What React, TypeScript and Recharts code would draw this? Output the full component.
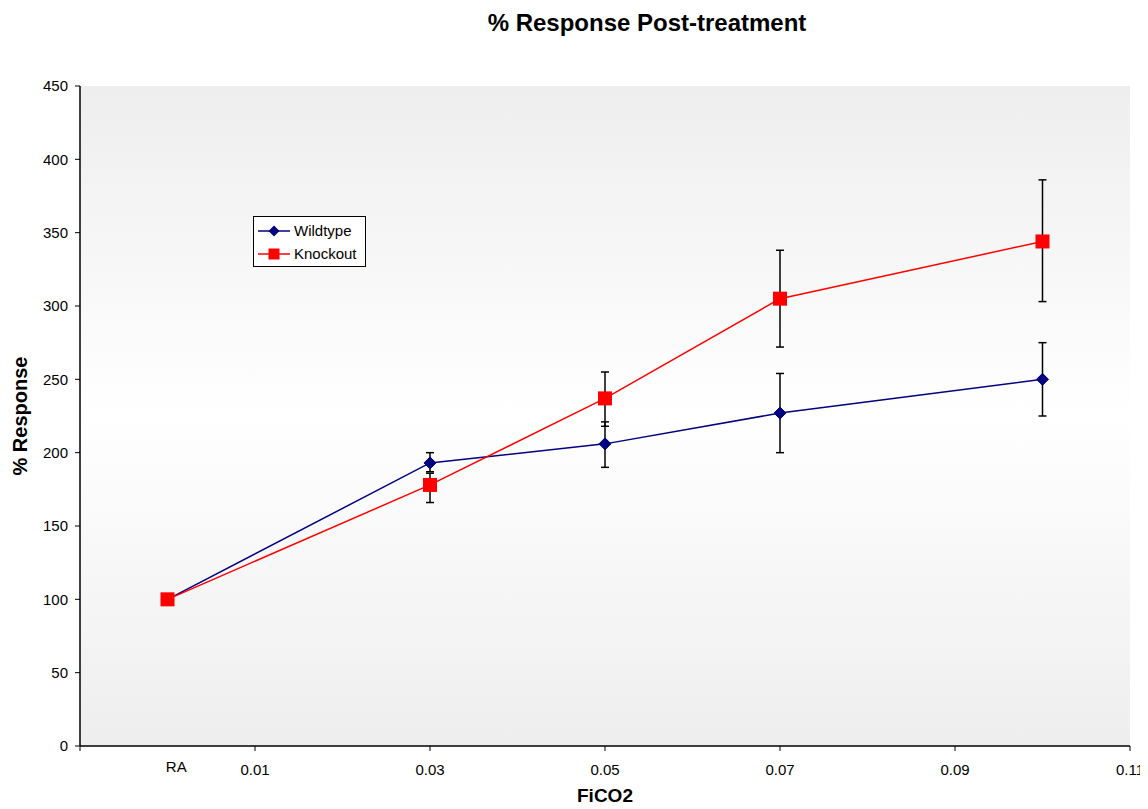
import React from 'react';
import {
  LineChart, Line, XAxis, YAxis, CartesianGrid, ErrorBar, ReferenceDot,
} from 'recharts';

// FiCO2 levels (0 = room air, labelled "RA")
const fico2 = [0, 0.03, 0.05, 0.07, 0.1];

const wildtype = [100, 193, 206, 227, 250];
const wildtypeErrLow = [0, 6, 16, 27, 25];
const wildtypeErrHigh = [0, 7, 15, 27, 25];

const knockout = [100, 178, 237, 305, 344];
const knockoutErrLow = [0, 12, 19, 33, 41];
const knockoutErrHigh = [0, 8, 18, 33, 42];

const xTicks = [-0.01, 0.01, 0.03, 0.05, 0.07, 0.09, 0.11];
const yTicks = [0, 50, 100, 150, 200, 250, 300, 350, 400, 450];

const NAVY = '#000080';
const RED = '#ff0000';
const FONT = '"Liberation Sans", Arial, sans-serif';

const data = fico2.map((x, i) => ({
  x,
  wildtype: wildtype[i],
  wildtypeErr: [wildtypeErrLow[i], wildtypeErrHigh[i]],
  knockout: knockout[i],
  knockoutErr: [knockoutErrLow[i], knockoutErrHigh[i]],
}));

const Diamond = (props: any) => {
  const { cx, cy } = props;
  if (cx == null || cy == null) return null;
  const s = 6;
  return <path d={`M${cx},${cy - s}L${cx + s},${cy}L${cx},${cy + s}L${cx - s},${cy}Z`} fill={NAVY} stroke={NAVY} />;
};

const Square = (props: any) => {
  const { cx, cy } = props;
  if (cx == null || cy == null) return null;
  const s = 7;
  return <rect x={cx - s} y={cy - s} width={s * 2} height={s * 2} fill={RED} />;
};

const legendItems = [
  { name: 'Wildtype', color: NAVY, shape: 'diamond' },
  { name: 'Knockout', color: RED, shape: 'square' },
];

const LegendBox = () => (
  <div style={{
    position: 'absolute', left: 245, top: 208, width: 111, height: 49,
    border: '1px solid #000', background: '#fff',
    fontFamily: FONT, fontSize: 15, color: '#000',
  }}>
    <div style={{ paddingTop: 2 }}>
      {legendItems.map(e => (
        <div key={e.name} style={{ display: 'flex', alignItems: 'center', height: 23 }}>
          <svg width={36} height={14} style={{ marginLeft: 3 }}>
            <line x1={1} y1={7} x2={33} y2={7} stroke={e.color} strokeWidth={1.5} />
            {e.shape === 'diamond'
              ? <path d="M17,1.5L22.5,7L17,12.5L11.5,7Z" fill={e.color} />
              : <rect x={11.5} y={1.5} width={11} height={11} fill={e.color} />}
          </svg>
          <span style={{ marginLeft: 1 }}>{e.name}</span>
        </div>
      ))}
    </div>
  </div>
);

export default function App() {
  return (
    <div style={{ position: 'relative', width: 1140, height: 800 }}>
      <div style={{
        position: 'absolute', top: 1, left: 439, width: 400, textAlign: 'center',
        fontFamily: FONT, fontWeight: 'bold', fontSize: 24, color: '#000',
      }}>
        % Response Post-treatment
      </div>
      <LineChart width={1140} height={800} data={data} margin={{ top: 78, right: 18, left: 12, bottom: 32 }}>
        <defs>
          <linearGradient id="plotBg" x1="0" y1="0" x2="0" y2="1">
            <stop offset="0%" stopColor="#eeeeee" />
            <stop offset="50%" stopColor="#ffffff" />
            <stop offset="100%" stopColor="#eeeeee" />
          </linearGradient>
        </defs>
        <CartesianGrid horizontal={false} vertical={false} fill="url(#plotBg)" />
        <XAxis
          dataKey="x"
          type="number"
          domain={[-0.01, 0.11]}
          ticks={xTicks}
          tickFormatter={(v: number) => (v < 0 ? '' : v.toFixed(2))}
          tick={{ fontSize: 15, fill: '#000', fontFamily: FONT }}
          tickLine={{ stroke: '#000' }}
          axisLine={{ stroke: '#000', strokeWidth: 1.5 }}
          tickSize={5}
          tickMargin={13}
          height={30}
          allowDataOverflow
          label={{ value: 'FiCO2', position: 'bottom', offset: 13, style: { fontSize: 19, fontWeight: 'bold', fill: '#000', fontFamily: FONT } }}
        />
        <XAxis xAxisId="top" orientation="top" type="number" domain={[-0.01, 0.11]} tick={false} tickLine={false} axisLine={{ stroke: '#808080' }} height={0} />
        <YAxis
          type="number"
          domain={[0, 450]}
          ticks={yTicks}
          tick={{ fontSize: 15, fill: '#000', fontFamily: FONT }}
          tickLine={{ stroke: '#000' }}
          axisLine={{ stroke: '#000', strokeWidth: 1.5 }}
          tickSize={5}
          tickMargin={7}
          width={60}
          label={{ value: '% Response', angle: -90, position: 'insideLeft', offset: 0, style: { textAnchor: 'middle', fontSize: 20, fontWeight: 'bold', fill: '#000', fontFamily: FONT } }}
        />
        <YAxis yAxisId="right" orientation="right" type="number" domain={[0, 450]} tick={false} tickLine={false} axisLine={{ stroke: '#808080' }} width={0} />
        <ReferenceDot
          x={0.001}
          y={0}
          r={0}
          ifOverflow="visible"
          label={{ value: 'RA', position: 'bottom', offset: 15, style: { fontSize: 15, fill: '#000', fontFamily: FONT } }}
        />
        <Line
          dataKey="wildtype"
          stroke={NAVY}
          strokeWidth={1.5}
          dot={<Diamond />}
          activeDot={false}
          isAnimationActive={false}
        >
          <ErrorBar dataKey="wildtypeErr" direction="y" stroke="#000" strokeWidth={1.5} width={4} />
        </Line>
        <Line
          dataKey="knockout"
          stroke={RED}
          strokeWidth={1.5}
          dot={<Square />}
          activeDot={false}
          isAnimationActive={false}
        >
          <ErrorBar dataKey="knockoutErr" direction="y" stroke="#000" strokeWidth={1.5} width={4} />
        </Line>
      </LineChart>
      <LegendBox />
    </div>
  );
}
